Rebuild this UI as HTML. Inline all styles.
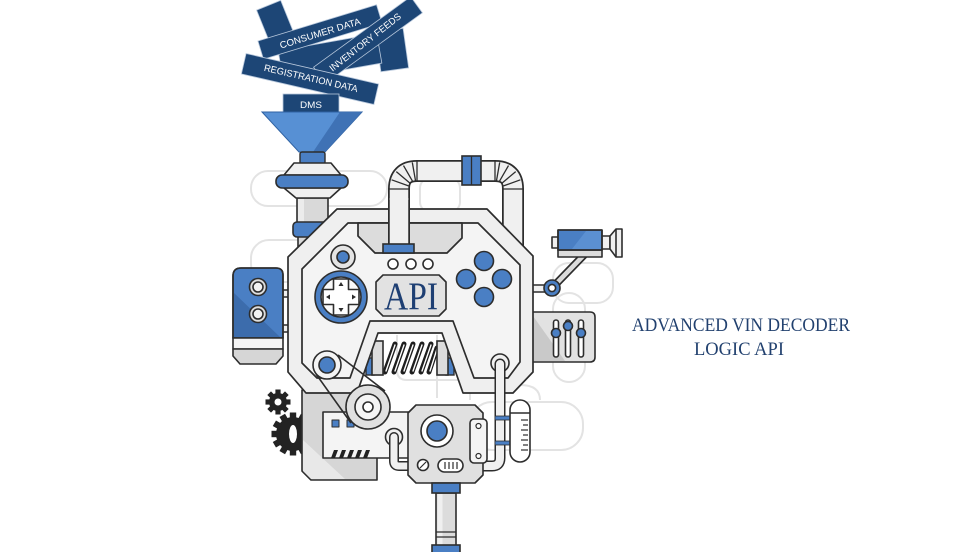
<!DOCTYPE html>
<html><head><meta charset="utf-8"><style>
html,body{margin:0;padding:0;background:#fff;}
svg{display:block;}
</style></head><body>
<svg width="980" height="552" viewBox="0 0 980 552" xmlns="http://www.w3.org/2000/svg">
<rect width="980" height="552" fill="#fff"/>

<!-- background faint outlines -->
<g fill="none" stroke="#e3e3e3" stroke-width="2">
<rect x="251" y="171" width="136" height="35" rx="17"/>
<rect x="251" y="240" width="80" height="42" rx="18"/>
<rect x="420" y="178" width="40" height="34" rx="10"/>
<rect x="553" y="263" width="60" height="40" rx="16"/>
<rect x="553" y="293" width="32" height="89" rx="16"/>
<rect x="470" y="402" width="113" height="48" rx="22"/>
<path d="M397,335 V370 Q397,380 407,380 H475"/>
<path d="M437,335 V398"/>
<path d="M470,380 V400 M520,385 Q540,385 540,400"/>
</g>

<!-- data labels -->
<g fill="#1d4676" stroke="#b8c8dc" stroke-width="0.8">
<rect x="-13" y="-17" width="26" height="34" transform="translate(275,21) rotate(-22)"/>
<rect x="-14" y="-20" width="28" height="40" transform="translate(392,50) rotate(-8)"/>
<rect x="-50" y="-15" width="100" height="30" transform="translate(330,57) rotate(-10)"/>
<rect x="-62" y="-9.5" width="124" height="19" transform="translate(320,32) rotate(-17)"/>
<rect x="-60" y="-10" width="120" height="20" transform="translate(368,40) rotate(-36)"/>
<rect x="-68" y="-10.5" width="136" height="21" transform="translate(310,79) rotate(13)"/>
<rect x="283" y="94" width="56" height="19"/>
</g>
<g fill="#fff" font-family="Liberation Sans, sans-serif" font-size="9.5">
<text transform="translate(320,33) rotate(-17)" x="-42" y="3.5" textLength="84" lengthAdjust="spacingAndGlyphs">CONSUMER DATA</text>
<text transform="translate(365,42) rotate(-38)" x="-44" y="3.5" textLength="88" lengthAdjust="spacingAndGlyphs">INVENTORY FEEDS</text>
<text transform="translate(311,78) rotate(13)" x="-48" y="3.5" textLength="96" lengthAdjust="spacingAndGlyphs">REGISTRATION DATA</text>
<text x="300" y="108" textLength="22" lengthAdjust="spacingAndGlyphs">DMS</text>
</g>

<!-- funnel -->
<polygon points="262,112 362,112 325,152 299,152" fill="#5790d4" stroke="#2f62a3" stroke-width="1"/>
<polygon points="340,112 362,112 325,152 313,152" fill="#3f72b5"/>
<rect x="300" y="152" width="25" height="12" rx="2" fill="#4a7fc4" stroke="#2d2d2d" stroke-width="1.4"/>

<!-- funnel connector & pipe (behind body) -->
<g stroke="#2d2d2d" stroke-width="1.6" stroke-linejoin="round">
<rect x="298" y="236" width="29" height="30" fill="#d9d9d9"/>
<rect x="297" y="198" width="31" height="26" fill="#d9d9d9"/>
<rect x="298" y="199" width="6" height="24" fill="#ececec" stroke="none"/>
<rect x="293" y="222" width="37" height="15" rx="4" fill="#4a7fc4"/>
<polygon points="294,163 331,163 341,175 284,175" fill="#f0f0f0"/>
<polygon points="284,188 341,188 330,198 296,198" fill="#f0f0f0"/>
<rect x="276" y="175" width="72" height="13" rx="6" fill="#4a7fc4"/>
</g>

<!-- top pipe loop -->
<path d="M513,255 V189 Q513,171 495,171 H417 Q399,171 399,189 V250" fill="none" stroke="#2d2d2d" stroke-width="22"/>
<path d="M513,256 V189 Q513,171 495,171 H417 Q399,171 399,189 V251" fill="none" stroke="#f0f0f0" stroke-width="18.5"/>
<g stroke="#2d2d2d" stroke-width="1.3">
<line x1="408.5" y1="185.9" x2="391.6" y2="179.8"/>
<line x1="410.1" y1="183.2" x2="396.3" y2="171.6"/>
<line x1="412.5" y1="181.2" x2="403.5" y2="165.6"/>
<line x1="415.5" y1="180.6" x2="412.3" y2="162.4"/>
<line x1="496.5" y1="180.6" x2="499.7" y2="162.4"/>
<line x1="499.5" y1="181.2" x2="508.5" y2="165.6"/>
<line x1="501.9" y1="183.2" x2="515.7" y2="171.6"/>
<line x1="503.5" y1="185.9" x2="520.4" y2="179.8"/>
<line x1="388" y1="189" x2="410" y2="189"/>
<line x1="417" y1="160" x2="417" y2="182"/>
<line x1="502" y1="189" x2="524" y2="189"/>
<line x1="495" y1="160" x2="495" y2="182"/>
</g>
<rect x="462" y="156" width="19" height="29" fill="#4a7fc4" stroke="#2d2d2d" stroke-width="1.6"/>
<line x1="471.5" y1="156" x2="471.5" y2="185" stroke="#2d2d2d" stroke-width="1.3"/>

<!-- left block -->
<g stroke="#2d2d2d" stroke-width="1.6" stroke-linejoin="round">
<rect x="282" y="290" width="9" height="7" fill="#f0f0f0"/>
<rect x="282" y="325" width="9" height="7" fill="#f0f0f0"/>
<path d="M241,268 H276 Q283,268 283,275 V338 H233 V276 Q233,268 241,268 Z" fill="#4a7fc4"/>
<polygon points="234,293 234,337 280,337" fill="#3c6cac" stroke="none"/>
<path d="M241,268 H276 Q283,268 283,275 V338 H233 V276 Q233,268 241,268 Z" fill="none"/>
<rect x="233" y="338" width="50" height="11" fill="#f4f4f4"/>
<polygon points="233,349 283,349 283,356 276,364 240,364 233,356" fill="#d6d6d6"/>
<circle cx="258" cy="287" r="8.5" fill="#dedede"/>
<circle cx="258" cy="287" r="5" fill="#f2f2f2"/>
<circle cx="258" cy="314" r="8.5" fill="#dedede"/>
<circle cx="258" cy="314" r="5" fill="#f2f2f2"/>
</g>

<!-- camera -->
<g stroke="#2d2d2d" stroke-width="1.6" stroke-linejoin="round">
<rect x="530" y="285" width="20" height="7" fill="#f0f0f0"/>
<line x1="584" y1="255" x2="552" y2="288" stroke="#2d2d2d" stroke-width="8" stroke-linecap="round"/>
<line x1="584" y1="255" x2="552" y2="288" stroke="#dcdcdc" stroke-width="4.5" stroke-linecap="round"/>
<circle cx="552" cy="288" r="8" fill="#4a7fc4"/>
<circle cx="552" cy="288" r="3.6" fill="#fff"/>
<rect x="552" y="237" width="7" height="11" fill="#f0f0f0"/>
<rect x="601" y="236" width="9" height="13" fill="#f0f0f0"/>
<polygon points="610,236 616,229 622,229 622,257 616,257 610,249" fill="#f0f0f0"/>
<line x1="616" y1="229" x2="616" y2="257"/>
<rect x="558" y="250" width="44" height="7" fill="#dcdcdc"/>
<rect x="558" y="230" width="44" height="20" fill="#4a7fc4"/>
<polygon points="586,231 601,231 601,249 572,249" fill="#5b90d2" stroke="none"/>
<rect x="558" y="230" width="44" height="20" fill="none"/>
</g>

<!-- slider panel -->
<g stroke="#2d2d2d" stroke-width="1.6" stroke-linejoin="round">
<path d="M530,312 H590 Q595,312 595,317 V357 Q595,362 590,362 H530 Z" fill="#e2e2e2"/>
<polygon points="533,316 533,361 565,361" fill="#c9c9c9" stroke="none"/>
<rect x="553.5" y="320" width="5" height="37" rx="2.5" fill="#fff"/>
<rect x="565.5" y="320" width="5" height="37" rx="2.5" fill="#fff"/>
<rect x="578.5" y="320" width="5" height="37" rx="2.5" fill="#fff"/>
<circle cx="556" cy="333" r="4.5" fill="#4a7fc4"/>
<circle cx="568" cy="326" r="4.5" fill="#4a7fc4"/>
<circle cx="581" cy="333" r="4.5" fill="#4a7fc4"/>
</g>

<!-- gears -->
<g fill="#232323">
<g transform="translate(278,402)">
<circle r="9"/>
<rect x="-2.6" y="-12.5" width="5.2" height="6" transform="rotate(0)"/>
<rect x="-2.6" y="-12.5" width="5.2" height="6" transform="rotate(45)"/>
<rect x="-2.6" y="-12.5" width="5.2" height="6" transform="rotate(90)"/>
<rect x="-2.6" y="-12.5" width="5.2" height="6" transform="rotate(135)"/>
<rect x="-2.6" y="-12.5" width="5.2" height="6" transform="rotate(180)"/>
<rect x="-2.6" y="-12.5" width="5.2" height="6" transform="rotate(225)"/>
<rect x="-2.6" y="-12.5" width="5.2" height="6" transform="rotate(270)"/>
<rect x="-2.6" y="-12.5" width="5.2" height="6" transform="rotate(315)"/>
<circle r="3.5" fill="#fff"/>
</g>
<g transform="translate(293,434)">
<circle r="17"/>
<rect x="-3.2" y="-21.5" width="6.4" height="7" transform="rotate(0)"/>
<rect x="-3.2" y="-21.5" width="6.4" height="7" transform="rotate(30)"/>
<rect x="-3.2" y="-21.5" width="6.4" height="7" transform="rotate(60)"/>
<rect x="-3.2" y="-21.5" width="6.4" height="7" transform="rotate(90)"/>
<rect x="-3.2" y="-21.5" width="6.4" height="7" transform="rotate(120)"/>
<rect x="-3.2" y="-21.5" width="6.4" height="7" transform="rotate(150)"/>
<rect x="-3.2" y="-21.5" width="6.4" height="7" transform="rotate(180)"/>
<rect x="-3.2" y="-21.5" width="6.4" height="7" transform="rotate(210)"/>
<rect x="-3.2" y="-21.5" width="6.4" height="7" transform="rotate(240)"/>
<rect x="-3.2" y="-21.5" width="6.4" height="7" transform="rotate(270)"/>
<rect x="-3.2" y="-21.5" width="6.4" height="7" transform="rotate(300)"/>
<rect x="-3.2" y="-21.5" width="6.4" height="7" transform="rotate(330)"/>
<ellipse rx="4" ry="9" fill="#fff"/>
</g>
</g>

<!-- lower gray block -->
<g stroke="#2d2d2d" stroke-width="1.6" stroke-linejoin="round">
<polygon points="302,390 377,390 377,480 311,480 302,471" fill="#d6d6d6"/>
<polygon points="303,440 303,471 311,479 345,479" fill="#e8e8e8" stroke="none"/>
</g>

<!-- spring (in notch) -->
<g stroke="#2d2d2d" stroke-width="1.4">
<rect x="366" y="358" width="8" height="17" fill="#4a7fc4"/>
<rect x="446" y="358" width="8" height="17" fill="#4a7fc4"/>
</g>
<g fill="none" stroke-linecap="round">
<g stroke="#1e1e1e" stroke-width="5">
<line x1="385" y1="372" x2="395" y2="344"/>
<line x1="394" y1="372" x2="404" y2="344"/>
<line x1="403" y1="372" x2="413" y2="344"/>
<line x1="412" y1="372" x2="422" y2="344"/>
<line x1="421" y1="372" x2="431" y2="344"/>
<line x1="429" y1="372" x2="437" y2="348"/>
</g>
<g stroke="#fff" stroke-width="1.4">
<line x1="386" y1="371" x2="395" y2="345"/>
<line x1="395" y1="371" x2="404" y2="345"/>
<line x1="404" y1="371" x2="413" y2="345"/>
<line x1="413" y1="371" x2="422" y2="345"/>
<line x1="422" y1="371" x2="431" y2="345"/>
<line x1="430" y1="371" x2="437" y2="349"/>
</g>
</g>
<g stroke="#2d2d2d" stroke-width="1.6">
<rect x="372" y="341" width="11" height="34" fill="#dcdcdc"/>
<rect x="437" y="341" width="11" height="34" fill="#dcdcdc"/>
</g>

<!-- body frame with notch -->
<g stroke="#2d2d2d" stroke-width="1.7" stroke-linejoin="round">
<polygon points="337,209 487,209 533,256 533,372 513,393 463,393 442,333 378,333 357,393 306,393 288,372 288,257" fill="#efefef"/>
<polygon points="348,223 478,223 520,265 520,362 508,378 474,378 453,321 370,321 350,378 317,378 302,363 302,269" fill="#f4f4f4"/>
<polygon points="358,223 462,223 462,238 447,253 375,253 358,236" fill="#dcdcdc"/>
</g>

<!-- left pipe of loop over body -->
<path d="M399,200 V246" fill="none" stroke="#2d2d2d" stroke-width="22"/>
<path d="M399,198 V246" fill="none" stroke="#f0f0f0" stroke-width="18.5"/>
<rect x="383" y="244" width="31" height="9" fill="#4a7fc4" stroke="#2d2d2d" stroke-width="1.6"/>

<!-- panel elements -->
<g stroke="#2d2d2d" stroke-width="1.6" stroke-linejoin="round">
<circle cx="343" cy="257" r="12" fill="#e4e4e4"/>
<circle cx="343" cy="257" r="6" fill="#4a7fc4"/>
<circle cx="341" cy="297" r="26" fill="#4a7fc4"/>
<circle cx="341" cy="297" r="20" fill="#fafafa"/>
<path d="M333.5,279 H348.5 V289.5 H359 V304.5 H348.5 V315 H333.5 V304.5 H323 V289.5 H333.5 Z" fill="#fff"/>
<circle cx="393" cy="264" r="5" fill="#fff"/>
<circle cx="411" cy="264" r="5" fill="#fff"/>
<circle cx="428" cy="264" r="5" fill="#fff"/>
<polygon points="383,275 439,275 446,282 446,309 439,316 383,316 376,309 376,282" fill="#e2e2e2"/>
<circle cx="484" cy="261" r="9.5" fill="#4a7fc4"/>
<circle cx="466" cy="279" r="9.5" fill="#4a7fc4"/>
<circle cx="502" cy="279" r="9.5" fill="#4a7fc4"/>
<circle cx="484" cy="297" r="9.5" fill="#4a7fc4"/>
<circle cx="327" cy="365" r="14" fill="#f4f4f4"/>
<circle cx="327" cy="365" r="8" fill="#4a7fc4"/>
</g>
<g fill="#2d2d2d">
<polygon points="341,282 338.5,286 343.5,286"/>
<polygon points="341,312 338.5,308 343.5,308"/>
<polygon points="326,297 330,294.5 330,299.5"/>
<polygon points="356,297 352,294.5 352,299.5"/>
</g>
<text x="384" y="309" font-family="Liberation Serif, serif" font-size="39" fill="#1e3f73" textLength="54" lengthAdjust="spacingAndGlyphs">API</text>

<!-- white panel on lower block -->
<g stroke="#2d2d2d" stroke-width="1.6" stroke-linejoin="round">
<rect x="323" y="412" width="89" height="46" fill="#f4f4f4"/>
<rect x="332" y="420" width="7" height="7" fill="#4a7fc4" stroke-width="1"/>
<rect x="347" y="420" width="7" height="7" fill="#4a7fc4" stroke-width="1"/>
</g>
<g fill="#222">
<polygon points="334,450 338,450 335,458 331,458"/>
<polygon points="342,450 346,450 343,458 339,458"/>
<polygon points="350,450 354,450 351,458 347,458"/>
<polygon points="358,450 362,450 359,458 355,458"/>
<polygon points="366,450 370,450 367,458 363,458"/>
</g>

<!-- pulley & belt -->
<g stroke="#2d2d2d" stroke-width="1.6">
<circle cx="368" cy="407" r="22" fill="#e0e0e0"/>
<circle cx="368" cy="407" r="13" fill="#f4f4f4"/>
<circle cx="368" cy="407" r="5" fill="#fff"/>
<line x1="316" y1="374" x2="351" y2="423"/>
<line x1="338" y1="355" x2="385" y2="391"/>
</g>

<!-- left pipe into motor -->
<circle cx="394" cy="437" r="8.5" fill="#f0f0f0" stroke="#2d2d2d" stroke-width="1.6"/>
<path d="M394,437 V461 Q394,466 399,466 H410" fill="none" stroke="#2d2d2d" stroke-width="10" stroke-linecap="round"/>
<path d="M394,437 V461 Q394,466 399,466 H411" fill="none" stroke="#f0f0f0" stroke-width="7" stroke-linecap="round"/>

<!-- right pipe with ring -->
<circle cx="500" cy="363" r="9" fill="#f0f0f0" stroke="#2d2d2d" stroke-width="1.6"/>
<path d="M500,364 V458 Q500,466 492,466 H481" fill="none" stroke="#2d2d2d" stroke-width="11" stroke-linecap="round"/>
<path d="M500,364 V458 Q500,466 492,466 H481" fill="none" stroke="#f0f0f0" stroke-width="8" stroke-linecap="round"/>
<rect x="495" y="416" width="17" height="4" fill="#4a7fc4" stroke="#2d2d2d" stroke-width="0.8"/>
<rect x="495" y="441" width="17" height="4" fill="#4a7fc4" stroke="#2d2d2d" stroke-width="0.8"/>

<!-- test tube -->
<g stroke="#2d2d2d" stroke-width="1.6">
<rect x="510" y="400" width="20" height="62" rx="10" fill="#fff"/>
<line x1="510" y1="413" x2="530" y2="413"/>
<g stroke-width="1.2">
<line x1="521" y1="420" x2="528" y2="420"/>
<line x1="523" y1="425" x2="528" y2="425"/>
<line x1="521" y1="430" x2="528" y2="430"/>
<line x1="523" y1="435" x2="528" y2="435"/>
<line x1="521" y1="440" x2="528" y2="440"/>
<line x1="523" y1="445" x2="528" y2="445"/>
<line x1="521" y1="450" x2="528" y2="450"/>
</g>
</g>

<!-- motor box -->
<g stroke="#2d2d2d" stroke-width="1.6" stroke-linejoin="round">
<polygon points="416,405 475,405 483,413 483,475 475,483 416,483 408,475 408,413" fill="#e0e0e0"/>
<circle cx="437" cy="431" r="16" fill="#fff"/>
<circle cx="437" cy="431" r="10" fill="#4a7fc4"/>
<circle cx="423" cy="465" r="5.5" fill="#fff"/>
<line x1="420" y1="468" x2="426" y2="462" stroke-width="1.2"/>
<rect x="438" y="459" width="25" height="13" rx="6.5" fill="#fff"/>
<g stroke-width="1.2">
<line x1="445" y1="462" x2="445" y2="469"/>
<line x1="449" y1="462" x2="449" y2="469"/>
<line x1="453" y1="462" x2="453" y2="469"/>
<line x1="457" y1="462" x2="457" y2="469"/>
</g>
<rect x="470" y="419" width="17" height="44" rx="4" fill="#f4f4f4"/>
<circle cx="478.5" cy="426" r="2.5" fill="#fff" stroke-width="1.2"/>
<circle cx="478.5" cy="456" r="2.5" fill="#fff" stroke-width="1.2"/>
</g>

<!-- bottom pipe -->
<g stroke="#2d2d2d" stroke-width="1.6">
<rect x="436" y="493" width="20" height="53" fill="#dcdcdc"/>
<rect x="437.5" y="494" width="5" height="51" fill="#f0f0f0" stroke="none"/>
<line x1="436" y1="532" x2="456" y2="532" stroke-width="1.2"/>
<line x1="436" y1="537" x2="456" y2="537" stroke-width="1.2"/>
<rect x="432" y="483" width="28" height="10" fill="#4a7fc4"/>
<rect x="432" y="545" width="28" height="9" fill="#4a7fc4"/>
</g>

<!-- title -->
<g font-family="Liberation Serif, serif" font-size="19" fill="#22416f">
<text x="632" y="331" textLength="218" lengthAdjust="spacingAndGlyphs">ADVANCED VIN DECODER</text>
<text x="694" y="355" textLength="90" lengthAdjust="spacingAndGlyphs">LOGIC API</text>
</g>
</svg>
</body></html>
